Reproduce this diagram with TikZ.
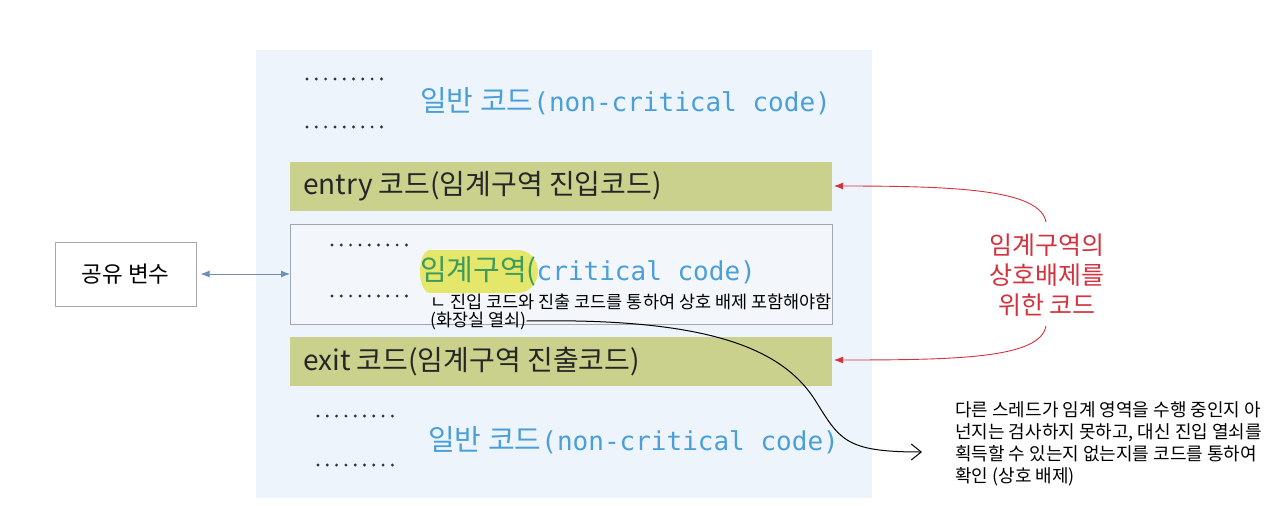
\documentclass[tikz,border=0pt]{standalone}
\usepackage{fontspec}
\setmainfont{Noto Sans CJK KR}
\newfontfamily\kr{Noto Sans CJK KR}
\newfontfamily\mono{DejaVu Sans Mono}
\usetikzlibrary{arrows.meta}
\definecolor{panelbg}{HTML}{EEF4FB}
\definecolor{critbg}{HTML}{F3F6FA}
\definecolor{barg}{HTML}{C9D18D}
\definecolor{bordergray}{HTML}{A3A7AE}
\definecolor{codeblue}{HTML}{4A9FD8}
\definecolor{codegreen}{HTML}{3E9B5A}
\definecolor{hlyellow}{HTML}{E4E76A}
\definecolor{redtxt}{HTML}{D2333F}
\definecolor{arrblue}{HTML}{6F8DBA}
\newcommand{\fs}[2]{\fontsize{#1}{#2}\selectfont}
\tikzset{
  codebar/.style={fill=barg, draw=none, minimum width=542pt, minimum height=49pt, anchor=north west, inner sep=0pt},
  bartext/.style={anchor=west, inner sep=0pt, font=\kr\fs{28}{30}, text=black!85},
  bluetext/.style={anchor=west, inner sep=0pt, text=codeblue},
  note/.style={anchor=west, inner sep=0pt, font=\kr\fs{17.5}{19}, text=black},
  redlabel/.style={align=center, inner sep=0pt, font=\kr\fs{25}{30}, text=redtxt},
  redarrow/.style={draw=redtxt, line width=0.9pt, -{Latex[length=9pt,width=7pt]}},
  dotrow/.style={fill=black!80},
}
\begin{document}
\begin{tikzpicture}[x=1pt,y=-1pt]
\useasboundingbox (0,0) rectangle (1286,506);
\fill[white] (0,0) rectangle (1286,506);
% panel
\fill[panelbg] (256,50) rectangle (872,498);
% top non-critical
\node[bluetext] (nc1) at (420,101) {\kr\fs{29}{30}일반 코드\mono\fs{26}{30}(non-critical code)};
% entry bar
\node[codebar] (entry) at (290,162) {};
\node[bartext] (entrytxt) at (303,186.5) {entry 코드(임계구역 진입코드)};
% critical box
\node[draw=bordergray, line width=1pt, fill=critbg, minimum width=542pt, minimum height=100pt, anchor=north west, inner sep=0pt] (crit) at (290,224) {};
\fill[hlyellow] (430,250) rectangle (518,293);
\fill[hlyellow] (518,271.5) ellipse (20 and 21.5);
\fill[hlyellow] (430,271.5) ellipse (10 and 21.5);
\node[anchor=west, inner sep=0pt] (crittxt) at (420,271) {\kr\fs{29}{30}\textcolor{codegreen}{임계구역(}\mono\fs{26}{30}\textcolor{codeblue}{critical code)}};
\node[note] (note1) at (430,302) {ㄴ 진입 코드와 진출 코드를 통하여 상호 배제 포함해야함};
\node[note] (note2) at (430,321) {(화장실 열쇠)};
% exit bar
\node[codebar] (exit) at (290,337) {};
\node[bartext] (exittxt) at (303,361.5) {exit 코드(임계구역 진출코드)};
% bottom non-critical
\node[bluetext] (nc2) at (428,440) {\kr\fs{29}{30}일반 코드\mono\fs{26}{30}(non-critical code)};
% dots
\foreach \yy/\xx in {79/307,127/307,416/318,465/318,245/332,296/332}{
  \foreach \i in {0,...,8}{\fill[dotrow] (\xx+9.3*\i,\yy) circle (1.6);}
}
% shared variable
\node[draw=bordergray, line width=1pt, fill=white, minimum width=141pt, minimum height=64pt, inner sep=0pt, font=\kr\fs{22.5}{24}] (shared) at (125.5,274) {공유 변수};
\draw[arrblue, line width=1pt, {Latex[length=9pt,width=7pt]}-{Latex[length=9pt,width=7pt]}] (shared.east) ++(4,0) coordinate (sa) -- (sa -| crit.west);
% red label
\node[redlabel] (red) at (1047,275) {임계구역의\\상호배제를\\위한 코드};
\coordinate (redtop) at (1046,222);
\coordinate (redbot) at (1046,326);
\draw[redarrow] (redtop) .. controls (1040,190) and (960,186) .. (834,186);
\draw[redarrow] (redbot) .. controls (1040,358) and (960,360) .. (834,360);
% explanation
\node[anchor=north west, inner sep=0pt, font=\kr\fs{18}{22}, align=left, text=black] (expl) at (955,401) {다른 스레드가 임계 영역을 수행 중인지 아\\넌지는 검사하지 못하고, 대신 진입 열쇠를\\획득할 수 있는지 없는지를 코드를 통하여\\확인 (상호 배제)};
\coordinate (curveend) at (922,452);
\draw[black, line width=1pt, -{Straight Barb[length=10pt,width=16pt]}] (note2.east) .. controls (700,318) and (780,345) .. (815,400) .. controls (840,440) and (845,452) .. (curveend);
\end{tikzpicture}
\end{document}
